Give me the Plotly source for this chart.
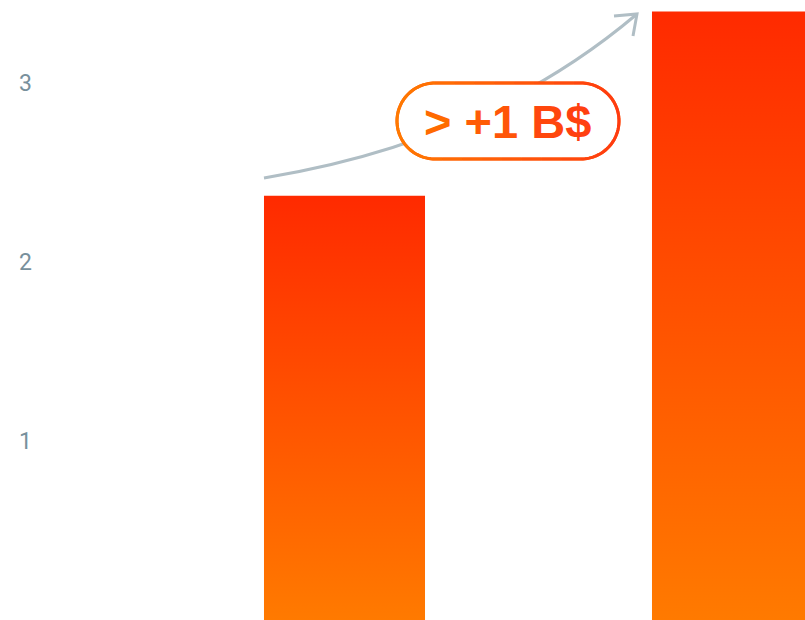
import numpy as np
import plotly.graph_objects as go

# ---- data ----
categories = ["Before", "After"]
values = [2.37, 3.40]
tick_vals = [1, 2, 3]
tick_text = ["1", "2", "3"]
label_text = "> +1 B$"

# ---- layout constants ----
W, H = 805, 620
ML, MR, MT, MB = 33, 0, 0, 0
bar_w = 0.415
XR = [(ML - 344.5) / 388.0, (W - 344.5) / 388.0]
YR = [0, 3.464]
sx = (W - ML - MR) / (XR[1] - XR[0])
sy = (H - MT - MB) / (YR[1] - YR[0])


def dx(px):
    return XR[0] + (px - ML) / sx


def dy(py):
    return YR[1] - (py - MT) / sy


def mix(c1, c2, t):
    a = [int(c1[i:i + 2], 16) for i in (1, 3, 5)]
    b = [int(c2[i:i + 2], 16) for i in (1, 3, 5)]
    return "#%02x%02x%02x" % tuple(round(a[k] + (b[k] - a[k]) * t) for k in range(3))


BOTTOM = "#ff7a00"
TOP = "#ff2a00"

fig = go.Figure()
for i, (cat, v) in enumerate(zip(categories, values)):
    fig.add_trace(go.Scatter(
        x=[i - bar_w / 2, i + bar_w / 2, i + bar_w / 2, i - bar_w / 2, i - bar_w / 2],
        y=[0, 0, v, v, 0],
        mode="lines", fill="toself", line=dict(width=0, color="rgba(0,0,0,0)"),
        fillgradient=dict(type="vertical", colorscale=[[0, BOTTOM], [1, TOP]], start=0, stop=v),
        name=cat, showlegend=False, hoverinfo="skip",
    ))

shapes = []
# curved arrow
x0, y0 = 0 - bar_w / 2, values[0] + 0.1
cx, cy = dx(486), dy(142)
x1, y1 = dx(637), dy(14)
curve_col = "#b0bec5"
shapes.append(dict(type="path", xref="x", yref="y",
                   path=f"M {x0},{y0} Q {cx},{cy} {x1},{y1}",
                   line=dict(color=curve_col, width=3), layer="above"))
shapes.append(dict(type="path", xref="x", yref="y",
                   path=f"M {dx(614)},{dy(16)} L {x1},{y1} L {dx(633)},{dy(36)}",
                   line=dict(color=curve_col, width=3), layer="above"))

# pill (pixel geometry converted to data coords)
L_, R_, T_, B_ = 397, 619, 83, 159
r = (B_ - T_) / 2
cyp = (T_ + B_) / 2
LCOL, RCOL = "#ff7a00", "#ff3a10"


def outline(x_from, x_to, n=200):
    """points of pill outline with x between x_from and x_to (top & bottom separately)"""
    pass


# full outline points
pts = []
for xx in np.linspace(L_ + r, R_ - r, 60):
    pts.append((xx, T_))
for a in np.linspace(-np.pi / 2, np.pi / 2, 60):
    pts.append((R_ - r + r * np.cos(a), cyp + r * np.sin(a)))
for xx in np.linspace(R_ - r, L_ + r, 60):
    pts.append((xx, B_))
for a in np.linspace(np.pi / 2, 3 * np.pi / 2, 60):
    pts.append((L_ + r + r * np.cos(a), cyp + r * np.sin(a)))
pts.append(pts[0])

full_path = "M " + " L ".join(f"{dx(p[0])},{dy(p[1])}" for p in pts) + " Z"
shapes.append(dict(type="path", xref="x", yref="y", path=full_path,
                   fillcolor="white", line=dict(color=mix(LCOL, RCOL, 0.5), width=3),
                   layer="above"))
# gradient overlay: group consecutive points into short polylines
G = 8
for k in range(0, len(pts) - 1, G):
    seg = pts[k:k + G + 1]
    if len(seg) < 2:
        continue
    mx = sum(p[0] for p in seg) / len(seg)
    t = (mx - L_) / (R_ - L_)
    shapes.append(dict(type="path", xref="x", yref="y",
                       path="M " + " L ".join(f"{dx(p[0])},{dy(p[1])}" for p in seg),
                       line=dict(color=mix(LCOL, RCOL, t), width=3), layer="above"))

n = len(label_text)
spans = "".join(
    f'<span style="color:{mix("#ff6a00", "#ff4010", j / (n - 1))}">{c}</span>'
    for j, c in enumerate(label_text)
)
fig.add_annotation(x=dx(507.5), y=dy(cyp), xref="x", yref="y",
                   text="<b>" + spans + "</b>", showarrow=False,
                   font=dict(family="Liberation Sans, Arial", size=47, color="#ff5500"))

fig.update_layout(
    width=W, height=H,
    margin=dict(l=ML, r=MR, t=MT, b=MB),
    paper_bgcolor="white", plot_bgcolor="white",
    shapes=shapes, showlegend=False,
    xaxis=dict(range=XR, visible=False, fixedrange=True),
    yaxis=dict(range=YR, tickvals=tick_vals, ticktext=tick_text, showgrid=False,
               zeroline=False, showline=False, ticks="",
               tickfont=dict(family="Roboto", size=23, color="#78909c"), fixedrange=True),
)

fig.write_html("out.html", config={"displayModeBar": False})
